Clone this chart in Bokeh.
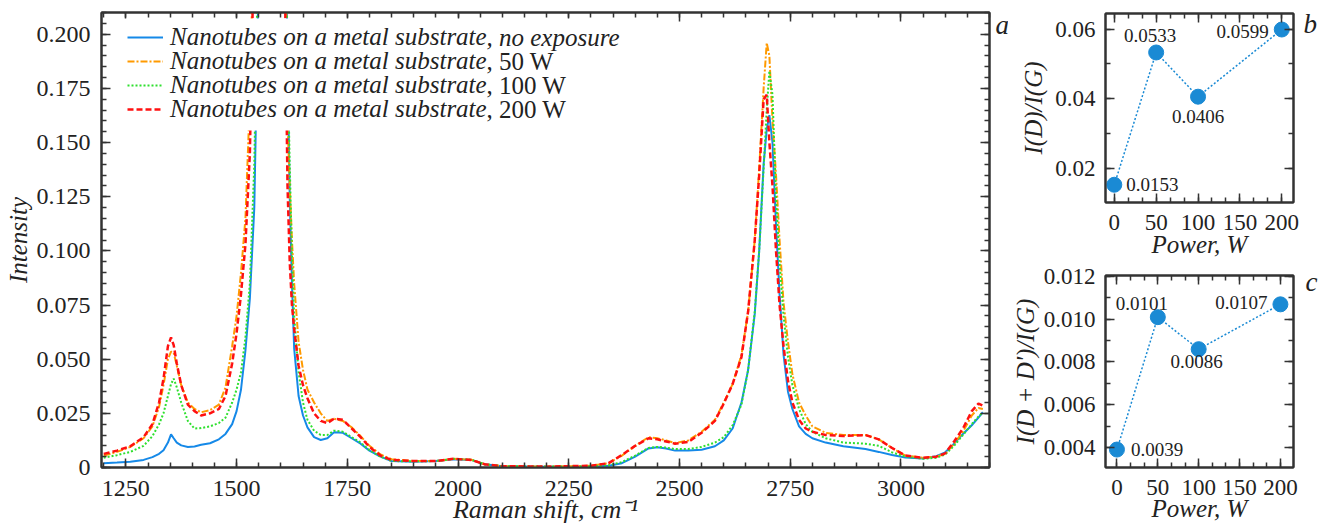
from bokeh.plotting import figure
from bokeh.models import (ColumnDataSource, Range1d, LinearAxis, FixedTicker, Legend,
                          LegendItem, Label, NumeralTickFormatter, BoxAnnotation)
from bokeh.layouts import row, column
from bokeh.embed import file_html
from bokeh.resources import INLINE
from bokeh.core.properties import value

# ---------------- data ----------------
raman_shift = [1200, 1230, 1260, 1290, 1310, 1325, 1335, 1345, 1352, 1358,
               1365, 1375, 1390, 1405, 1420, 1440, 1460, 1475, 1490, 1500,
               1510, 1520, 1530, 1540, 1550, 1565, 1580, 1595, 1610, 1615,
               1620, 1625, 1630, 1640, 1650, 1660, 1675, 1690, 1705, 1720,
               1740, 1760, 1780, 1800, 1825, 1850, 1900, 1950, 1990, 2030,
               2060, 2100, 2200, 2300, 2340, 2370, 2400, 2430, 2450, 2470,
               2490, 2520, 2550, 2580, 2600, 2620, 2640, 2655, 2670, 2680,
               2690, 2697, 2703, 2710, 2718, 2726, 2735, 2745, 2755, 2770,
               2785, 2800, 2830, 2870, 2920, 2950, 2980, 3010, 3050, 3080,
               3100, 3120, 3140, 3160, 3175, 3185]

int_no_exposure = [0.0020, 0.0023, 0.0027, 0.0035, 0.0048, 0.0063, 0.0080, 0.0115, 0.0153, 0.0135,
                   0.0115, 0.0102, 0.0095, 0.0097, 0.0105, 0.0112, 0.0130, 0.0155, 0.0200, 0.0260,
                   0.0360, 0.0540, 0.0780, 0.1200, 0.2300, 0.5500, 1.0000, 0.7000, 0.2600, 0.1900,
                   0.1250, 0.0850, 0.0550, 0.0330, 0.0240, 0.0185, 0.0140, 0.0127, 0.0135, 0.0163,
                   0.0160, 0.0135, 0.0110, 0.0078, 0.0050, 0.0030, 0.0027, 0.0030, 0.0038, 0.0035,
                   0.0015, 0.0006, 0.0004, 0.0004, 0.0008, 0.0020, 0.0050, 0.0088, 0.0093, 0.0088,
                   0.0078, 0.0078, 0.0082, 0.0098, 0.0125, 0.0180, 0.0300, 0.0450, 0.0710, 0.1000,
                   0.1400, 0.1560, 0.1626, 0.1500, 0.1120, 0.0800, 0.0520, 0.0350, 0.0270, 0.0190,
                   0.0155, 0.0135, 0.0115, 0.0098, 0.0085, 0.0072, 0.0058, 0.0046, 0.0042, 0.0052,
                   0.0070, 0.0110, 0.0155, 0.0195, 0.0230, 0.0255]

int_50w = [0.0055, 0.0072, 0.0095, 0.0135, 0.0190, 0.0280, 0.0380, 0.0500, 0.0535, 0.0530,
           0.0470, 0.0380, 0.0300, 0.0270, 0.0255, 0.0265, 0.0290, 0.0370, 0.0560, 0.0700,
           0.0900, 0.1150, 0.1700, 0.2600, 0.4800, 0.8200, 1.0000, 0.6500, 0.2500, 0.1600,
           0.1300, 0.1050, 0.0850, 0.0580, 0.0450, 0.0360, 0.0300, 0.0250, 0.0215, 0.0225,
           0.0215, 0.0185, 0.0145, 0.0100, 0.0060, 0.0038, 0.0030, 0.0030, 0.0040, 0.0036,
           0.0015, 0.0006, 0.0004, 0.0008, 0.0020, 0.0055, 0.0100, 0.0140, 0.0135, 0.0125,
           0.0113, 0.0125, 0.0165, 0.0220, 0.0300, 0.0385, 0.0520, 0.0720, 0.1050, 0.1380,
           0.1750, 0.1960, 0.1900, 0.1600, 0.1350, 0.1050, 0.0760, 0.0580, 0.0430, 0.0300,
           0.0240, 0.0190, 0.0160, 0.0150, 0.0150, 0.0130, 0.0090, 0.0055, 0.0045, 0.0050,
           0.0062, 0.0110, 0.0165, 0.0240, 0.0275, 0.0270]

int_100w = [0.0045, 0.0057, 0.0072, 0.0100, 0.0145, 0.0200, 0.0250, 0.0330, 0.0385, 0.0410,
            0.0370, 0.0300, 0.0215, 0.0180, 0.0182, 0.0190, 0.0205, 0.0230, 0.0300, 0.0360,
            0.0440, 0.0600, 0.0850, 0.1400, 0.2500, 0.6000, 1.0000, 0.7000, 0.2700, 0.1900,
            0.1400, 0.0980, 0.0700, 0.0440, 0.0300, 0.0220, 0.0170, 0.0150, 0.0150, 0.0170,
            0.0165, 0.0140, 0.0115, 0.0080, 0.0050, 0.0030, 0.0028, 0.0030, 0.0040, 0.0036,
            0.0015, 0.0006, 0.0004, 0.0005, 0.0010, 0.0025, 0.0055, 0.0090, 0.0095, 0.0092,
            0.0085, 0.0085, 0.0095, 0.0115, 0.0140, 0.0195, 0.0290, 0.0450, 0.0720, 0.1000,
            0.1380, 0.1650, 0.1830, 0.1720, 0.1250, 0.0950, 0.0700, 0.0510, 0.0380, 0.0270,
            0.0200, 0.0165, 0.0135, 0.0115, 0.0110, 0.0100, 0.0070, 0.0050, 0.0040, 0.0045,
            0.0060, 0.0100, 0.0150, 0.0200, 0.0235, 0.0255]

int_200w = [0.0063, 0.0078, 0.0098, 0.0140, 0.0200, 0.0300, 0.0410, 0.0560, 0.0600, 0.0565,
            0.0480, 0.0380, 0.0290, 0.0260, 0.0240, 0.0250, 0.0270, 0.0330, 0.0480, 0.0620,
            0.0800, 0.1030, 0.1450, 0.2500, 0.4500, 0.8000, 1.0000, 0.6000, 0.2100, 0.1300,
            0.0950, 0.0750, 0.0640, 0.0470, 0.0380, 0.0320, 0.0250, 0.0215, 0.0205, 0.0225,
            0.0220, 0.0180, 0.0140, 0.0095, 0.0055, 0.0035, 0.0030, 0.0030, 0.0040, 0.0035,
            0.0015, 0.0006, 0.0004, 0.0008, 0.0020, 0.0058, 0.0100, 0.0135, 0.0130, 0.0120,
            0.0110, 0.0118, 0.0160, 0.0215, 0.0295, 0.0385, 0.0510, 0.0720, 0.1050, 0.1350,
            0.1700, 0.1720, 0.1500, 0.1300, 0.1000, 0.0750, 0.0560, 0.0400, 0.0300, 0.0220,
            0.0180, 0.0165, 0.0150, 0.0145, 0.0150, 0.0130, 0.0090, 0.0055, 0.0045, 0.0050,
            0.0065, 0.0120, 0.0180, 0.0260, 0.0295, 0.0285]

series_names = ["no exposure", "50 W", "100 W", "200 W"]

power = [0, 50, 100, 200]
ratio_d_g = [0.0153, 0.0533, 0.0406, 0.0599]
ratio_dd_g = [0.0039, 0.0101, 0.0086, 0.0107]

x_ticks = [1250, 1500, 1750, 2000, 2250, 2500, 2750, 3000]
y_ticks = [0, 0.025, 0.05, 0.075, 0.1, 0.125, 0.15, 0.175, 0.2]
power_ticks = [0, 50, 100, 150, 200]
b_ticks = [0.02, 0.04, 0.06]
c_ticks = [0.004, 0.006, 0.008, 0.010, 0.012]

# ---------------- styles ----------------
FONT = "Liberation Serif"
INK = "#222222"
FRAME = "#333333"
colors = ["#1589e8", "#ff9a00", "#2ee02e", "#ff1010"]
dashes = ["solid", "7 2 2 2", "2 2", "6 3"]
widths = [2, 2, 2, 2.5]
marker_color = "#1a8ad4"


def make_fig(width, height, xr, yr, bl, br, bt, bb):
    p = figure(width=width, height=height, x_range=Range1d(*xr), y_range=Range1d(*yr),
               output_backend="svg", toolbar_location=None,
               min_border_left=bl, min_border_right=br, min_border_top=bt, min_border_bottom=bb)
    p.grid.visible = False
    p.outline_line_color = FRAME
    p.outline_line_width = 2
    p.background_fill_color = "white"
    p.border_fill_color = "white"
    return p


def setup_axis(ax, ticks, minor, fmt, size, standoff, show=True, overrides=None,
               label=None, label_standoff=0, label_size="25px"):
    ax.ticker = FixedTicker(ticks=ticks, minor_ticks=minor)
    ax.formatter = NumeralTickFormatter(format=fmt)
    ax.major_tick_in = 9
    ax.major_tick_out = 0
    ax.minor_tick_in = 5
    ax.minor_tick_out = 0
    ax.axis_line_color = FRAME
    ax.axis_line_width = 2
    ax.major_tick_line_color = FRAME
    ax.major_tick_line_width = 1.5
    ax.minor_tick_line_color = FRAME
    ax.minor_tick_line_width = 1.5
    ax.major_label_text_font = FONT
    ax.major_label_text_color = INK
    if show:
        ax.major_label_text_font_size = size
        ax.major_label_standoff = standoff
        if overrides:
            ax.major_label_overrides = overrides
    else:
        ax.major_label_text_font_size = "0px"
        ax.major_label_standoff = 0
        ax.major_label_overrides = {t: "" for t in ticks}
    if label:
        ax.axis_label = label
        ax.axis_label_text_font = FONT
        ax.axis_label_text_font_style = "italic"
        ax.axis_label_text_font_size = label_size
        ax.axis_label_text_color = INK
        ax.axis_label_standoff = label_standoff
    else:
        ax.axis_label = None


def mirror_axes(p, xt, xm, yt, ym):
    top = LinearAxis()
    setup_axis(top, xt, xm, "0", "0px", 0, show=False)
    p.add_layout(top, "above")
    right = LinearAxis()
    setup_axis(right, yt, ym, "0", "0px", 0, show=False)
    p.add_layout(right, "right")


def panel_letter(p, letter, x, y):
    # letter placed in the right side panel, next to the frame
    p.add_layout(Label(x=x, y=y, x_units="screen", y_units="screen", text=letter,
                       text_font=FONT, text_font_style="italic", text_font_size="27px",
                       text_color=INK, text_baseline="alphabetic"), "right")


# ---------------- main spectrum panel ----------------
main = make_fig(1008, 529, (1195, 3200), (0, 0.21), 101, 19, 12, 62)
setup_axis(main.xaxis[0], x_ticks, list(range(1200, 3201, 50)), "0", "24px", 13,
           label="Raman shift, cm\u207b\u00b9", label_standoff=-4, label_size="26px")
setup_axis(main.yaxis[0], y_ticks, [i * 0.005 for i in range(43)], "0.000", "24px", 11,
           overrides={0: "0"}, label="Intensity", label_standoff=2)
mirror_axes(main, x_ticks, list(range(1200, 3201, 50)), y_ticks, [i * 0.005 for i in range(43)])

src = ColumnDataSource(dict(x=raman_shift, s0=int_no_exposure, s1=int_50w, s2=int_100w, s3=int_200w))

# white area behind the legend (hides the G-peak lines as in the original)
main.add_layout(BoxAnnotation(left=19, right=539, top=449, bottom=337,
                              left_units="screen", right_units="screen",
                              top_units="screen", bottom_units="screen",
                              fill_color="white", fill_alpha=1.0, line_color=None))

renderers = []
for i, key in enumerate(["s0", "s1", "s2", "s3"]):
    r = main.line("x", key, source=src, line_color=colors[i], line_width=widths[i],
                  line_dash=dashes[i])
    renderers.append(r)

row_y = [430, 406, 382, 358]
legend_vy = [416, 392, 368, 344]
for i, name in enumerate(series_names):
    main.add_layout(Label(x=385, y=row_y[i], x_units="screen", y_units="screen",
                          text=", " + name, text_font=FONT,
                          text_font_style="italic" if i == 0 else "normal",
                          text_font_size="25px", text_color=INK, text_baseline="middle"))
for i in range(4):
    lg = Legend(items=[LegendItem(label="Nanotubes on a metal substrate", renderers=[renderers[i]])],
                location=(26, legend_vy[i]), margin=0, padding=0, spacing=0,
                glyph_width=36, glyph_height=20, label_height=20,
                label_standoff=7, label_text_font=FONT, label_text_font_style="italic",
                label_text_font_size="25px", label_text_color=INK,
                background_fill_alpha=0, border_line_color=None)
    main.add_layout(lg, "center")

panel_letter(main, "a", 6, 443)

# ---------------- panel b ----------------
pb = make_fig(316, 264, (-10.5, 214), (0.0102, 0.0645), 93, 31, 13, 62)
setup_axis(pb.xaxis[0], power_ticks, [i * 50 / 3 for i in range(13)], "0", "23px", 12,
           label="Power, W", label_standoff=-2)
setup_axis(pb.yaxis[0], b_ticks, [0.01 * i for i in range(1, 7)], "0.00", "23px", 10,
           label="I(D)/I(G)", label_standoff=5)
mirror_axes(pb, power_ticks, [i * 50 / 3 for i in range(13)], b_ticks,
            [0.01 * i for i in range(1, 7)])

b_src = ColumnDataSource(dict(power=power, ratio=ratio_d_g,
                              label=["{:.4f}".format(v) for v in ratio_d_g],
                              dx=[12, -6, 0, -13], dy=[0, -17, 20, 2],
                              align=["left", "center", "center", "right"]))
pb.line("power", "ratio", source=b_src, line_color=marker_color, line_width=1.5, line_dash="2 2")
pb.scatter("power", "ratio", source=b_src, size=15, fill_color=marker_color, line_color=marker_color)
pb.text("power", "ratio", text="label", source=b_src, x_offset="dx", y_offset="dy",
        text_align="align", text_baseline="middle", text_font=value(FONT),
        text_font_size="19px", text_color=INK)
panel_letter(pb, "b", 10, 179)

# ---------------- panel c ----------------
pc = make_fig(316, 265, (-14, 216), (0.00306, 0.01205), 93, 31, 11, 62)
setup_axis(pc.xaxis[0], power_ticks, [i * 50 / 3 for i in range(13)], "0", "23px", 12,
           label="Power, W", label_standoff=-3)
setup_axis(pc.yaxis[0], c_ticks, [0.001 * i for i in range(3, 13)], "0.000", "23px", 10,
           label="I(D + D')/I(G)", label_standoff=2)
mirror_axes(pc, power_ticks, [i * 50 / 3 for i in range(13)], c_ticks,
            [0.001 * i for i in range(3, 13)])

c_src = ColumnDataSource(dict(power=power, ratio=ratio_dd_g,
                              label=["{:.4f}".format(v) for v in ratio_dd_g],
                              dx=[14, -16, -2, -13], dy=[0, -14, 12, -2],
                              align=["left", "center", "center", "right"]))
pc.line("power", "ratio", source=c_src, line_color=marker_color, line_width=1.5, line_dash="2 2")
pc.scatter("power", "ratio", source=c_src, size=15, fill_color=marker_color, line_color=marker_color)
pc.text("power", "ratio", text="label", source=c_src, x_offset="dx", y_offset="dy",
        text_align="align", text_baseline="middle", text_font=value(FONT),
        text_font_size="19px", text_color=INK)
panel_letter(pc, "c", 12, 186)

layout = row(main, column(pb, pc))
open("out.html", "w").write(file_html(layout, INLINE))
